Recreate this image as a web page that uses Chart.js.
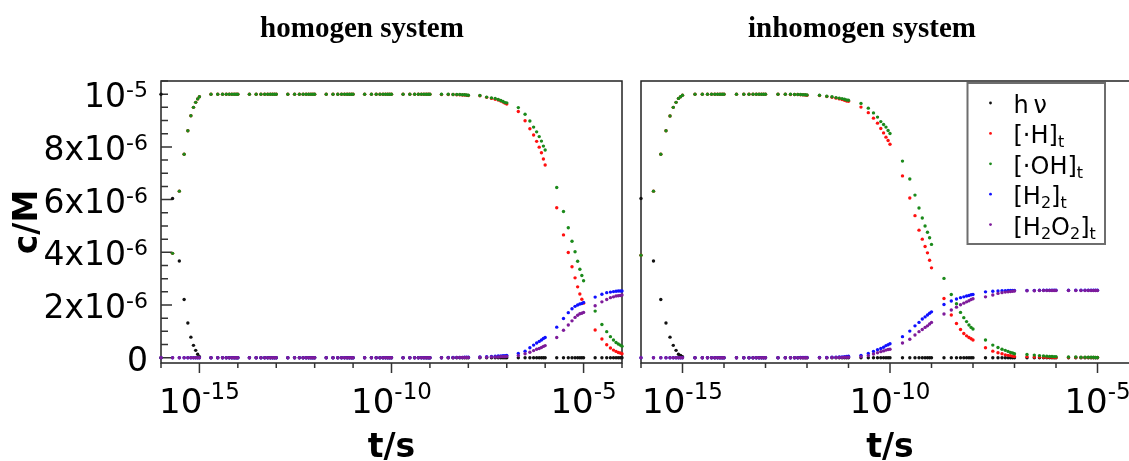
<!DOCTYPE html>
<html>
<head>
<meta charset="utf-8">
<script src="https://cdn.jsdelivr.net/npm/chart.js@4"></script>
<style>
  html, body { margin: 0; padding: 0; background: #fff; overflow: hidden; width: 1129px; height: 461px; }
  canvas { position: absolute; top: 0; }
  #homogen { left: 0; }
  #inhomogen { left: 632px; }
</style>
</head>
<body>
<canvas id="homogen" width="632" height="461"></canvas>
<canvas id="inhomogen" width="520" height="461"></canvas>
<script>
// time grid: k * 10^n, one row of values per decade
const mantissas = [1, 2, 3, 4, 5, 6, 7, 8, 9];
const leftDecades = [-16, -15, -14, -13, -12, -11, -10, -9, -8, -7, -6, -5];
const leftLast = 1e-4;
const rightDecades = [-16, -15, -14, -13, -12, -11, -10, -9, -8, -7, -6];
const rightLast = 1e-5;

// concentrations in units of 1e-6 M
const seriesNames = ['h\u2009ν', '[·H]_t', '[·OH]_t', '[H_2]_t', '[H_2O_2]_t'];
const seriesColors = ['#111111', '#ff1010', '#1b8a1b', '#1010ff', '#7e1b9a'];

const leftHv = [
  10, 6.04, 3.67, 2.21, 1.32, 0.78, 0.47, 0.28, 0.13,
  0.04, 0, 0, 0, 0, 0, 0, 0, 0,
  0, 0, 0, 0, 0, 0, 0, 0, 0,
  0, 0, 0, 0, 0, 0, 0, 0, 0,
  0, 0, 0, 0, 0, 0, 0, 0, 0,
  0, 0, 0, 0, 0, 0, 0, 0, 0,
  0, 0, 0, 0, 0, 0, 0, 0, 0,
  0, 0, 0, 0, 0, 0, 0, 0, 0,
  0, 0, 0, 0, 0, 0, 0, 0, 0,
  0, 0, 0, 0, 0, 0, 0, 0, 0,
  0, 0, 0, 0, 0, 0, 0, 0, 0,
  0, 0, 0, 0, 0, 0, 0, 0, 0,
  0
];
const leftH = [
  0, 3.96, 6.32, 7.72, 8.61, 9.18, 9.50, 9.69, 9.82,
  9.90, 10, 10, 10, 10, 10, 10, 10, 10,
  10, 10, 10, 10, 10, 10, 10, 10, 10,
  10, 10, 10, 10, 10, 10, 10, 10, 10,
  10, 10, 10, 10, 10, 10, 10, 10, 10,
  10, 10, 10, 10, 10, 10, 10, 10, 10,
  10, 10, 10, 10, 10, 10, 10, 10, 10,
  10, 9.99, 9.99, 9.99, 9.98, 9.98, 9.97, 9.97, 9.96,
  9.95, 9.94, 9.88, 9.84, 9.81, 9.78, 9.74, 9.70, 9.66,
  9.63, 9.34, 8.99, 8.69, 8.45, 8.21, 7.99, 7.78, 7.54,
  7.31, 5.69, 4.66, 3.99, 3.45, 3.03, 2.69, 2.42, 2.22,
  2.07, 1.05, 0.71, 0.49, 0.37, 0.29, 0.24, 0.20, 0.18,
  0.15
];
const leftOH = [
  0, 3.96, 6.32, 7.72, 8.61, 9.18, 9.50, 9.69, 9.82,
  9.90, 10, 10, 10, 10, 10, 10, 10, 10,
  10, 10, 10, 10, 10, 10, 10, 10, 10,
  10, 10, 10, 10, 10, 10, 10, 10, 10,
  10, 10, 10, 10, 10, 10, 10, 10, 10,
  10, 10, 10, 10, 10, 10, 10, 10, 10,
  10, 10, 10, 10, 10, 10, 10, 10, 10,
  10, 10, 10, 9.99, 9.99, 9.99, 9.98, 9.98, 9.97,
  9.96, 9.95, 9.89, 9.86, 9.84, 9.80, 9.76, 9.72, 9.68,
  9.67, 9.49, 9.24, 8.98, 8.75, 8.57, 8.39, 8.22, 8.03,
  7.88, 6.46, 5.55, 4.93, 4.42, 4.02, 3.66, 3.36, 3.12,
  2.92, 1.77, 1.26, 0.99, 0.80, 0.67, 0.58, 0.52, 0.48,
  0.44
];
const leftH2 = [
  0, 0, 0, 0, 0, 0, 0, 0, 0,
  0, 0, 0, 0, 0, 0, 0, 0, 0,
  0, 0, 0, 0, 0, 0, 0, 0, 0,
  0, 0, 0, 0, 0, 0, 0, 0, 0,
  0, 0, 0, 0, 0, 0, 0, 0, 0,
  0, 0, 0, 0, 0, 0, 0, 0, 0,
  0, 0, 0, 0, 0, 0, 0, 0, 0,
  0, 0, 0.01, 0.01, 0.01, 0.01, 0.01, 0.02, 0.02,
  0.02, 0.03, 0.04, 0.05, 0.06, 0.07, 0.07, 0.08, 0.08,
  0.09, 0.16, 0.25, 0.38, 0.48, 0.56, 0.62, 0.67, 0.73,
  0.77, 1.16, 1.49, 1.71, 1.86, 1.95, 2.00, 2.04, 2.06,
  2.10, 2.30, 2.41, 2.47, 2.49, 2.51, 2.52, 2.53, 2.53,
  2.53
];
const leftH2O2 = [
  0, 0, 0, 0, 0, 0, 0, 0, 0,
  0, 0, 0, 0, 0, 0, 0, 0, 0,
  0, 0, 0, 0, 0, 0, 0, 0, 0,
  0, 0, 0, 0, 0, 0, 0, 0, 0,
  0, 0, 0, 0, 0, 0, 0, 0, 0,
  0, 0, 0, 0, 0, 0, 0, 0, 0,
  0, 0, 0, 0, 0, 0, 0, 0, 0,
  0, 0, 0, 0, 0.01, 0.01, 0.01, 0.01, 0.01,
  0.01, 0.02, 0.02, 0.03, 0.03, 0.03, 0.04, 0.04, 0.04,
  0.05, 0.08, 0.15, 0.21, 0.27, 0.32, 0.35, 0.39, 0.43,
  0.46, 0.77, 1.04, 1.24, 1.40, 1.53, 1.61, 1.67, 1.69,
  1.72, 1.97, 2.12, 2.21, 2.28, 2.31, 2.34, 2.35, 2.36,
  2.38
];

const rightHv = [
  6.04, 3.67, 2.21, 1.32, 0.78, 0.47, 0.28, 0.13, 0.09,
  0.04, 0, 0, 0, 0, 0, 0, 0, 0,
  0, 0, 0, 0, 0, 0, 0, 0, 0,
  0, 0, 0, 0, 0, 0, 0, 0, 0,
  0, 0, 0, 0, 0, 0, 0, 0, 0,
  0, 0, 0, 0, 0, 0, 0, 0, 0,
  0, 0, 0, 0, 0, 0, 0, 0, 0,
  0, 0, 0, 0, 0, 0, 0, 0, 0,
  0, 0, 0, 0, 0, 0, 0, 0, 0,
  0, 0, 0, 0, 0, 0, 0, 0, 0,
  0, 0, 0, 0, 0, 0, 0, 0, 0,
  0
];
const rightH = [
  3.89, 6.32, 7.72, 8.61, 9.17, 9.50, 9.69, 9.84, 9.90,
  9.96, 10, 10, 10, 10, 10, 10, 10, 10,
  10, 10, 10, 10, 10, 10, 10, 10, 10,
  10, 10, 10, 9.99, 9.99, 9.99, 9.98, 9.98, 9.97,
  9.96, 9.95, 9.91, 9.88, 9.85, 9.82, 9.80, 9.77, 9.74,
  9.73, 9.51, 9.30, 9.09, 8.90, 8.70, 8.53, 8.37, 8.24,
  8.10, 6.90, 6.06, 5.39, 4.84, 4.50, 4.22, 3.98, 3.70,
  3.41, 2.25, 1.62, 1.30, 1.07, 0.92, 0.83, 0.77, 0.72,
  0.67, 0.38, 0.25, 0.19, 0.15, 0.11, 0.09, 0.08, 0.06,
  0.05, 0.04, 0.03, 0.03, 0.02, 0.02, 0.02, 0.02, 0.01,
  0.01, 0.01, 0.01, 0.01, 0.01, 0.01, 0.01, 0.01, 0.01,
  0.01
];
const rightOH = [
  3.89, 6.32, 7.72, 8.61, 9.17, 9.50, 9.69, 9.84, 9.90,
  9.96, 10, 10, 10, 10, 10, 10, 10, 10,
  10, 10, 10, 10, 10, 10, 10, 10, 10,
  10, 10, 10, 10, 9.99, 9.99, 9.99, 9.98, 9.98,
  9.97, 9.96, 9.92, 9.90, 9.87, 9.85, 9.83, 9.81, 9.78,
  9.77, 9.65, 9.47, 9.29, 9.13, 8.96, 8.85, 8.75, 8.62,
  8.51, 7.46, 6.78, 6.17, 5.68, 5.30, 5.00, 4.76, 4.55,
  4.30, 3.01, 2.40, 2.05, 1.72, 1.52, 1.37, 1.24, 1.15,
  1.09, 0.67, 0.48, 0.39, 0.32, 0.28, 0.24, 0.20, 0.18,
  0.15, 0.12, 0.10, 0.08, 0.07, 0.06, 0.05, 0.05, 0.04,
  0.04, 0.03, 0.03, 0.02, 0.02, 0.02, 0.02, 0.02, 0.01,
  0.01
];
const rightH2 = [
  0, 0, 0, 0, 0, 0, 0, 0, 0,
  0, 0, 0, 0, 0, 0, 0, 0, 0,
  0, 0, 0, 0, 0, 0, 0, 0, 0,
  0, 0, 0, 0, 0, 0, 0.01, 0.01, 0.01,
  0.01, 0.01, 0.01, 0.02, 0.02, 0.03, 0.03, 0.04, 0.05,
  0.06, 0.09, 0.16, 0.24, 0.30, 0.35, 0.40, 0.46, 0.49,
  0.53, 0.80, 1.01, 1.21, 1.34, 1.47, 1.55, 1.62, 1.69,
  1.74, 2.02, 2.15, 2.23, 2.28, 2.31, 2.34, 2.36, 2.39,
  2.40, 2.50, 2.52, 2.53, 2.54, 2.54, 2.55, 2.55, 2.55,
  2.55, 2.55, 2.55, 2.56, 2.56, 2.56, 2.56, 2.56, 2.56,
  2.56, 2.56, 2.56, 2.56, 2.56, 2.56, 2.56, 2.56, 2.56,
  2.56
];
const rightH2O2 = [
  0, 0, 0, 0, 0, 0, 0, 0, 0,
  0, 0, 0, 0, 0, 0, 0, 0, 0,
  0, 0, 0, 0, 0, 0, 0, 0, 0,
  0, 0, 0, 0, 0, 0, 0, 0, 0,
  0, 0, 0, 0.01, 0.01, 0.01, 0.01, 0.02, 0.02,
  0.02, 0.04, 0.08, 0.14, 0.19, 0.23, 0.26, 0.29, 0.31,
  0.32, 0.56, 0.70, 0.86, 0.99, 1.07, 1.15, 1.21, 1.28,
  1.34, 1.66, 1.81, 1.92, 2.01, 2.07, 2.12, 2.16, 2.21,
  2.24, 2.31, 2.38, 2.44, 2.47, 2.49, 2.50, 2.51, 2.52,
  2.53, 2.54, 2.54, 2.55, 2.55, 2.55, 2.55, 2.55, 2.55,
  2.55, 2.55, 2.55, 2.55, 2.55, 2.55, 2.55, 2.55, 2.55,
  2.55
];

// axis labels
const yTickValues = [0, 2, 4, 6, 8, 10];
const yTickBase = ['0', '2x10', '4x10', '6x10', '8x10', '10'];
const yTickSup = ['', '-6', '-6', '-6', '-6', '-5'];
const xLabelExps = [-15, -10, -5];
const xTickExps = [-16, -15, -14, -13, -12, -11, -10, -9, -8, -7, -6, -5, -4];

function buildTimes(decades, last) {
  let t = [];
  decades.forEach(e => mantissas.forEach(k => t.push(k * Math.pow(10, e))));
  t.push(last);
  return t;
}

function plain(s) { return s.replace(/_/g, ''); }

function supText(ctx, base, sup, x, baseline, align, size, raise) {
  ctx.font = size + 'px "DejaVu Sans"';
  let wb = ctx.measureText(base).width;
  ctx.font = Math.round(size * 0.68) + 'px "DejaVu Sans"';
  let ws = sup ? ctx.measureText(sup).width : 0;
  let left = align === 'right' ? x - wb - ws : x - (wb + ws) / 2;
  ctx.textAlign = 'left';
  ctx.font = size + 'px "DejaVu Sans"';
  ctx.fillText(base, left, baseline);
  if (sup) {
    ctx.font = Math.round(size * 0.68) + 'px "DejaVu Sans"';
    ctx.fillText(sup, left + wb, baseline - raise);
  }
}

// '_' marks the next character as a subscript
function richText(ctx, str, x, baseline, size) {
  let i = 0;
  while (i < str.length) {
    let sub = str[i] === '_';
    let ch = sub ? str[i + 1] : str[i];
    ctx.font = (sub ? Math.round(size * 0.68) : size) + 'px "DejaVu Sans"';
    ctx.fillText(ch, x, baseline + (sub ? 4 : 0));
    x += ctx.measureText(ch).width;
    i += sub ? 2 : 1;
  }
}

const decor = {
  id: 'decor',
  beforeDatasetsDraw(chart, args, o) {
    const {ctx, chartArea: a, scales: {x, y}} = chart;
    ctx.save();
    ctx.strokeStyle = '#222';
    ctx.lineWidth = 1.5;
    ctx.strokeRect(a.left, a.top, a.right - a.left, a.bottom - a.top);
    ctx.strokeStyle = '#333';
    ctx.beginPath();
    xTickExps.forEach(e => {
      let px = x.getPixelForValue(Math.pow(10, e));
      let len = xLabelExps.includes(e) ? 10 : 5;
      ctx.moveTo(px, a.bottom);
      ctx.lineTo(px, a.bottom + len);
    });
    if (o.yAxis) {
      for (let v = 0; v <= 10.5; v += 0.5) {
        let py = y.getPixelForValue(v);
        let len = (v % 2 === 0 && v < 10) ? 11 : 7;
        ctx.moveTo(a.left, py);
        ctx.lineTo(a.left + len, py);
      }
    }
    ctx.stroke();
    ctx.restore();
  },
  afterDraw(chart, args, o) {
    const {ctx, chartArea: a, scales: {x, y}} = chart;
    ctx.save();
    ctx.fillStyle = '#000';
    ctx.textBaseline = 'alphabetic';

    xLabelExps.forEach(e => {
      supText(ctx, '10', String(e), x.getPixelForValue(Math.pow(10, e)), a.bottom + 50, 'center', 34, 14);
    });

    ctx.font = 'bold 33px "DejaVu Sans"';
    ctx.textAlign = 'center';
    ctx.fillText('t/s', (a.left + a.right) / 2, 457);

    if (o.yAxis) {
      yTickValues.forEach((v, i) => {
        supText(ctx, yTickBase[i], yTickSup[i], a.left - 13, y.getPixelForValue(v) + 13, 'right', 33, 10);
      });
      ctx.save();
      ctx.translate(37, (a.top + a.bottom) / 2);
      ctx.rotate(-Math.PI / 2);
      ctx.font = 'bold 33px "DejaVu Sans"';
      ctx.textAlign = 'center';
      ctx.fillText('c/M', 0, 0);
      ctx.restore();
    }

    ctx.font = 'bold 29px "Liberation Serif"';
    ctx.textAlign = 'center';
    ctx.fillText(o.title, o.titleX, 37);

    if (o.legend) {
      let lx = o.legend.x, ly = o.legend.y;
      ctx.strokeStyle = '#6e6e6e';
      ctx.lineWidth = 2;
      ctx.strokeRect(lx, ly, o.legend.w, o.legend.h);
      ctx.textAlign = 'left';
      seriesNames.forEach((name, i) => {
        let cy = ly + 20 + i * 30.4;
        ctx.fillStyle = seriesColors[i];
        ctx.beginPath();
        ctx.arc(lx + 23, cy, 1.4, 0, Math.PI * 2);
        ctx.fill();
        ctx.fillStyle = '#000';
        richText(ctx, name, lx + 46, cy + 10, 24);
      });
    }
    ctx.restore();
  }
};

function makeChart(id, times, series, opts) {
  return new Chart(document.getElementById(id), {
    type: 'scatter',
    data: {
      datasets: series.map((values, i) => ({
        label: plain(seriesNames[i]),
        data: times.map((t, j) => ({x: t, y: values[j]})),
        backgroundColor: seriesColors[i],
        borderColor: seriesColors[i],
        borderWidth: 0,
        pointRadius: 1.7,
        order: series.length - i,
        clip: false
      }))
    },
    options: {
      responsive: false,
      animation: false,
      layout: {padding: opts.padding},
      plugins: {legend: {display: false}, tooltip: {enabled: false}, decor: opts},
      scales: {
        x: {type: 'logarithmic', min: 1e-16, max: 1e-4, display: false},
        y: {type: 'linear', min: -0.2, max: 10.5, display: false}
      }
    },
    plugins: [decor]
  });
}

makeChart('homogen', buildTimes(leftDecades, leftLast),
  [leftHv, leftH, leftOH, leftH2, leftH2O2],
  {padding: {left: 161, right: 10, top: 81, bottom: 98}, yAxis: true,
   title: 'homogen system', titleX: 362});

makeChart('inhomogen', buildTimes(rightDecades, rightLast),
  [rightHv, rightH, rightOH, rightH2, rightH2O2],
  {padding: {left: 9, right: 13, top: 81, bottom: 98}, yAxis: false,
   title: 'inhomogen system', titleX: 230,
   legend: {x: 335.5, y: 83, w: 137.5, h: 161}});
</script>
</body>
</html>
